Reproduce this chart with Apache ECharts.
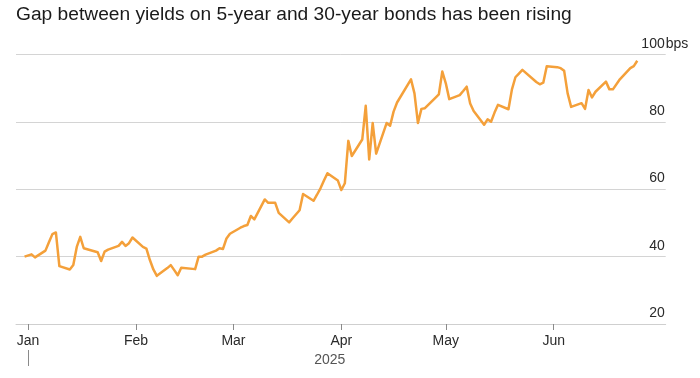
<!DOCTYPE html>
<html>
<head>
<meta charset="utf-8">
<script src="https://cdn.jsdelivr.net/npm/echarts@6/dist/echarts.min.js"></script>
<style>html,body{margin:0;padding:0;background:#fff}#c{width:700px;height:378px}</style>
</head>
<body>
<div id="c"></div>
<script>
var titleText = 'Gap between yields on 5-year and 30-year bonds has been rising';
var dates = [
'2024-12-31','2025-01-02','2025-01-03','2025-01-06','2025-01-07','2025-01-08','2025-01-09','2025-01-10',
'2025-01-13','2025-01-14','2025-01-15','2025-01-16','2025-01-17','2025-01-21','2025-01-22','2025-01-23','2025-01-24',
'2025-01-27','2025-01-28','2025-01-29','2025-01-30','2025-01-31',
'2025-02-03','2025-02-04','2025-02-05','2025-02-06','2025-02-07','2025-02-10','2025-02-11','2025-02-12','2025-02-13','2025-02-14',
'2025-02-18','2025-02-19','2025-02-20','2025-02-21','2025-02-24','2025-02-25','2025-02-26','2025-02-27','2025-02-28',
'2025-03-03','2025-03-04','2025-03-05','2025-03-06','2025-03-07','2025-03-10','2025-03-11','2025-03-12','2025-03-13','2025-03-14',
'2025-03-17','2025-03-18','2025-03-19','2025-03-20','2025-03-21','2025-03-24','2025-03-25','2025-03-26','2025-03-27','2025-03-28',
'2025-03-31','2025-04-01','2025-04-02','2025-04-03','2025-04-04','2025-04-07','2025-04-08','2025-04-09','2025-04-10','2025-04-11',
'2025-04-14','2025-04-15','2025-04-16','2025-04-17','2025-04-21','2025-04-22','2025-04-23','2025-04-24','2025-04-25',
'2025-04-28','2025-04-29','2025-04-30','2025-05-01','2025-05-02','2025-05-05','2025-05-06','2025-05-07','2025-05-08','2025-05-09',
'2025-05-12','2025-05-13','2025-05-14','2025-05-15','2025-05-16','2025-05-19','2025-05-20','2025-05-21','2025-05-22','2025-05-23',
'2025-05-27','2025-05-28','2025-05-29','2025-05-30','2025-06-02','2025-06-03','2025-06-04','2025-06-05','2025-06-06',
'2025-06-09','2025-06-10','2025-06-11','2025-06-12','2025-06-13','2025-06-16','2025-06-17','2025-06-18','2025-06-20',
'2025-06-23','2025-06-24','2025-06-25'
];
var spread = [
40.0,40.7,39.8,41.8,44.3,46.7,47.2,37.2,
36.2,37.5,42.9,45.9,42.5,41.3,38.7,41.5,42.1,
43.2,44.4,43.2,44.0,45.7,
42.9,42.4,39.0,36.2,34.3,36.6,37.5,36.0,34.5,36.7,
36.3,40.0,40.0,40.6,41.8,42.5,42.3,45.4,46.8,
48.6,49.1,49.4,52.1,51.1,57.0,56.0,56.0,56.0,53.0,
50.2,51.4,52.6,53.8,58.6,56.6,58.4,60.3,62.6,64.8,
62.6,59.8,61.8,74.4,69.9,74.8,84.8,68.9,79.7,70.6,
79.7,78.9,83.1,85.8,92.7,88.5,79.7,83.9,84.1,
87.2,88.2,95.0,91.5,86.8,88.0,89.2,90.5,85.5,83.3,
79.2,80.8,80.1,82.8,85.1,83.8,89.7,93.3,94.4,95.5,
91.9,91.2,91.7,96.6,96.3,96.0,95.2,88.5,84.5,
85.6,83.9,89.5,87.3,89.0,92.0,89.7,89.7,92.7,
96.0,96.6,98.2
];
var monthTicks = ['2025-01-01','2025-02-01','2025-03-01','2025-04-01','2025-05-01','2025-06-01'];
var monthNames = ['Jan','Feb','Mar','Apr','May','Jun','Jul','Aug','Sep','Oct','Nov','Dec'];
var yTicks = [20, 40, 60, 80, 100];
var yUnit = 'bps';
var yearLabel = '2025';

function ts(s){ var p = s.split('-'); return Date.UTC(+p[0], +p[1]-1, +p[2]); }
var HOUR = 3600000;
var xMin = ts('2024-12-28') + 13*HOUR;
var xMax = ts('2025-07-03') + 4*HOUR;
var monthVals = monthTicks.map(ts);
var yearTickVals = [ts('2025-01-01')];
var yearLabelVals = [ts('2025-03-28') + 16*HOUR];

var font = '"Liberation Sans", Arial, Helvetica, sans-serif';
var chart = echarts.init(document.getElementById('c'), null, {renderer:'canvas'});
chart.setOption({
  animation: false,
  backgroundColor: '#fff',
  title: {
    text: titleText, left: 11, top: 0.5,
    textStyle: {fontFamily: font, fontSize: 19.2, fontWeight: 'normal', color: '#1a1a1a'}
  },
  grid: {left: 16, right: 34.3, top: 54.7, bottom: 54, containLabel: false},
  xAxis: [{
    type: 'value', min: xMin, max: xMax, scale: true,
    axisLine: {show: true, lineStyle: {color: '#cfcfcf', width: 1}},
    axisTick: {show: true, customValues: monthVals, length: 6, lineStyle: {color: '#8a8a8a'}},
    axisLabel: {
      customValues: monthVals, margin: 10, color: '#2a2a2a', fontFamily: font, fontSize: 14,
      formatter: function(v){ return monthNames[new Date(v).getUTCMonth()]; }
    },
    splitLine: {show: false}
  }, {
    type: 'value', min: xMin, max: xMax, scale: true, position: 'bottom', offset: 26,
    axisLine: {show: false},
    axisTick: {show: true, customValues: yearTickVals, length: 16, lineStyle: {color: '#8a8a8a'}},
    axisLabel: {
      customValues: yearLabelVals, margin: 3, color: '#555', fontFamily: font, fontSize: 14,
      formatter: function(){ return yearLabel; }
    },
    splitLine: {show: false}
  }],
  yAxis: {
    type: 'value', min: 20, max: 100, interval: 20, position: 'right',
    name: yUnit, nameLocation: 'end', nameGap: 0, nameMoveOverlap: false,
    nameTextStyle: {align: 'left', verticalAlign: 'bottom', color: '#2a2a2a', fontFamily: font, fontSize: 14, padding: [0,0,4,0]},
    axisLine: {show: false}, axisTick: {show: false},
    splitLine: {show: true, lineStyle: {color: '#d4d4d4', width: 1}},
    axisLabel: {
      inside: true, margin: 1, verticalAlign: 'bottom', padding: [0,0,4,0],
      color: '#2a2a2a', fontFamily: font, fontSize: 14
    }
  },
  series: [{
    type: 'line', xAxisIndex: 0, showSymbol: false, symbol: 'none',
    data: dates.map(function(d, i){ return [ts(d), spread[i]]; }),
    lineStyle: {color: '#F4A03A', width: 2.5, join: 'round'},
    itemStyle: {color: '#F4A03A'}
  }]
});
</script>
</body>
</html>
